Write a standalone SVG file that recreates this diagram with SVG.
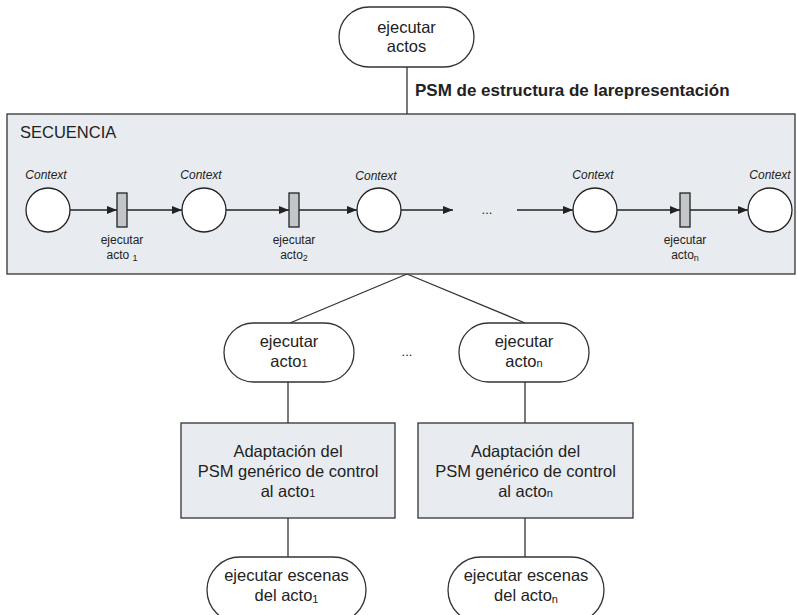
<svg xmlns="http://www.w3.org/2000/svg" width="797" height="615" viewBox="0 0 797 615">
<defs>
<marker id="arr" viewBox="0 0 10 8" refX="10" refY="4" markerWidth="10" markerHeight="8" markerUnits="userSpaceOnUse" orient="auto">
<path d="M0,0 L10,4 L0,8 z" fill="#222"/>
</marker>
<style>
text{font-family:"Liberation Sans",Arial,sans-serif;fill:#222}
.big{font-size:16.5px}
.lbl{font-size:12px}
.ctx{font-size:12px;font-style:italic}
.bold{font-size:17px;font-weight:bold}
.term{fill:#fff;stroke:#333;stroke-width:1.3}
.box{fill:#e8ecf0;stroke:#333;stroke-width:1.3}
.place{fill:#fff;stroke:#222;stroke-width:1.3}
.trans{fill:#c2c6cb;stroke:#222;stroke-width:1.3}
.ln{stroke:#333;stroke-width:1.3;fill:none}
.arc{stroke:#222;stroke-width:1.3;fill:none;marker-end:url(#arr)}
</style>
</defs>

<g id="connectors">
<line class="ln" x1="407" y1="67" x2="407" y2="114"/>
<line class="ln" x1="407" y1="274" x2="290" y2="323"/>
<line class="ln" x1="407" y1="274" x2="525" y2="323"/>
<line class="ln" x1="288" y1="382" x2="288" y2="423"/>
<line class="ln" x1="525" y1="382" x2="525" y2="423"/>
<line class="ln" x1="288" y1="518" x2="288" y2="557"/>
<line class="ln" x1="525" y1="518" x2="525" y2="557"/>
</g>
<text class="bold" x="415" y="96">PSM de estructura de larepresentación</text>

<g id="top">
<rect class="term" x="339" y="7" width="135" height="60" rx="30" ry="30"/>
<text class="big" x="406.5" y="33" text-anchor="middle">ejecutar</text>
<text class="big" x="406.5" y="52" text-anchor="middle">actos</text>
</g>

<g id="secuencia">
<rect class="box" x="7" y="114" width="788" height="160"/>
<text x="20" y="138" style="font-size:16.5px">SECUENCIA</text>
<g id="petri-arcs">
<line class="arc" x1="70" y1="210" x2="117" y2="210"/>
<line class="arc" x1="127" y1="210" x2="182" y2="210"/>
<line class="arc" x1="226" y1="210" x2="289" y2="210"/>
<line class="arc" x1="299" y1="210" x2="357" y2="210"/>
<line class="arc" x1="401" y1="210" x2="453" y2="210"/>
<line class="arc" x1="517" y1="210" x2="573" y2="210"/>
<line class="arc" x1="617" y1="210" x2="680" y2="210"/>
<line class="arc" x1="690" y1="210" x2="748" y2="210"/>
</g>
<text x="487" y="214" text-anchor="middle" style="font-size:13px">...</text>
<g id="p1"><circle class="place" cx="48" cy="210" r="22"/><text class="ctx" x="46" y="179" text-anchor="middle">Context</text></g>
<g id="p2"><circle class="place" cx="204" cy="210" r="22"/><text class="ctx" x="201" y="179" text-anchor="middle">Context</text></g>
<g id="p3"><circle class="place" cx="379" cy="210" r="22"/><text class="ctx" x="376" y="180" text-anchor="middle">Context</text></g>
<g id="p4"><circle class="place" cx="595" cy="210" r="22"/><text class="ctx" x="593" y="179" text-anchor="middle">Context</text></g>
<g id="p5"><circle class="place" cx="770" cy="210" r="22"/><text class="ctx" x="770" y="179" text-anchor="middle">Context</text></g>
<g id="t1"><rect class="trans" x="117" y="193" width="10" height="34"/>
<text class="lbl" x="122" y="244" text-anchor="middle">ejecutar</text>
<text class="lbl" x="122" y="259" text-anchor="middle">acto <tspan style="font-size:9px" dy="2">1</tspan></text></g>
<g id="t2"><rect class="trans" x="289" y="193" width="10" height="34"/>
<text class="lbl" x="294" y="244" text-anchor="middle">ejecutar</text>
<text class="lbl" x="294" y="259" text-anchor="middle">acto<tspan style="font-size:9px" dy="2">2</tspan></text></g>
<g id="tn"><rect class="trans" x="680" y="193" width="10" height="34"/>
<text class="lbl" x="685" y="244" text-anchor="middle">ejecutar</text>
<text class="lbl" x="685" y="259" text-anchor="middle">acto<tspan style="font-size:9px" dy="2">n</tspan></text></g>
</g>

<text x="407" y="356" text-anchor="middle" style="font-size:13px">...</text>

<g id="acto1">
<rect class="term" x="224" y="323" width="130" height="59" rx="29.5" ry="29.5"/>
<text class="big" x="289" y="347" text-anchor="middle">ejecutar</text>
<text class="big" x="289" y="367" text-anchor="middle">acto<tspan style="font-size:11px">1</tspan></text>
</g>
<g id="acton">
<rect class="term" x="459" y="323" width="130" height="59" rx="29.5" ry="29.5"/>
<text class="big" x="524" y="347" text-anchor="middle">ejecutar</text>
<text class="big" x="524" y="367" text-anchor="middle">acto<tspan style="font-size:11px">n</tspan></text>
</g>

<g id="adapt1">
<rect class="box" x="181" y="423" width="214" height="95"/>
<text class="big" x="288" y="457" text-anchor="middle">Adaptación del</text>
<text class="big" x="288" y="477" text-anchor="middle">PSM genérico de control</text>
<text class="big" x="288" y="497" text-anchor="middle">al acto<tspan style="font-size:11px">1</tspan></text>
</g>
<g id="adaptn">
<rect class="box" x="418" y="423" width="215" height="95"/>
<text class="big" x="525.5" y="457" text-anchor="middle">Adaptación del</text>
<text class="big" x="525.5" y="477" text-anchor="middle">PSM genérico de control</text>
<text class="big" x="525.5" y="497" text-anchor="middle">al acto<tspan style="font-size:11px">n</tspan></text>
</g>

<g id="escenas1">
<rect class="term" x="207" y="557" width="159" height="66" rx="33" ry="33"/>
<text class="big" x="286.5" y="581" text-anchor="middle">ejecutar escenas</text>
<text class="big" x="286.5" y="601" text-anchor="middle">del acto<tspan style="font-size:11px" dy="2">1</tspan></text>
</g>
<g id="escenasn">
<rect class="term" x="448" y="557" width="156" height="66" rx="33" ry="33"/>
<text class="big" x="526" y="581" text-anchor="middle">ejecutar escenas</text>
<text class="big" x="526" y="601" text-anchor="middle">del acto<tspan style="font-size:11px" dy="2">n</tspan></text>
</g>
</svg>
